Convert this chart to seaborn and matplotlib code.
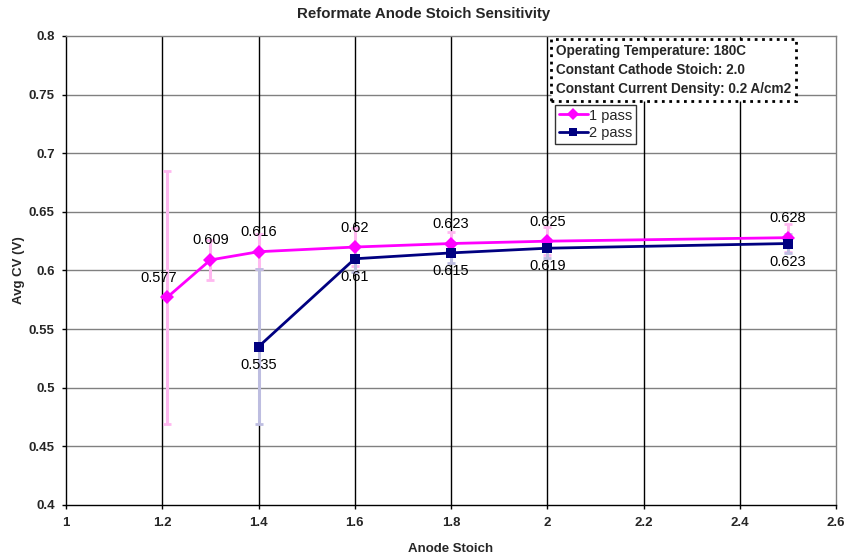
import matplotlib
matplotlib.use("Agg")
import matplotlib.pyplot as plt
import seaborn as sns
import pandas as pd

x1 = [1.21, 1.3, 1.4, 1.6, 1.8, 2.0, 2.5]
y1 = [0.577, 0.609, 0.616, 0.62, 0.623, 0.625, 0.628]
e1 = [0.108, 0.017, 0.015, 0.016, 0.01, 0.012, 0.012]
x2 = [1.4, 1.6, 1.8, 2.0, 2.5]
y2 = [0.535, 0.61, 0.615, 0.619, 0.623]
e2 = [0.066, 0.011, 0.009, 0.008, 0.008]
labels1 = ["0.577", "0.609", "0.616", "0.62", "0.623", "0.625", "0.628"]
labels2 = ["0.535", "0.61", "0.615", "0.619", "0.623"]

sns.set_theme(style="white")
plt.rcParams['font.family'] = ['Liberation Sans', 'DejaVu Sans']

df = pd.concat([
    pd.DataFrame({"x": x1, "y": y1, "series": "1 pass"}),
    pd.DataFrame({"x": x2, "y": y2, "series": "2 pass"}),
])

fig = plt.figure(figsize=(8.48, 5.58), dpi=100)
ax = fig.add_axes([0.0778, 0.095, 0.9082, 0.8405])

ax.errorbar(x1, y1, yerr=e1, fmt='none', ecolor='#FFB8F0', elinewidth=2.2, capsize=3, capthick=2, zorder=2)
ax.errorbar(x2, y2, yerr=e2, fmt='none', ecolor='#BDBDE0', elinewidth=2.2, capsize=3, capthick=2, zorder=2)

sns.lineplot(data=df, x="x", y="y", hue="series", style="series",
             palette={"1 pass": "#FF00FF", "2 pass": "#000080"},
             markers={"1 pass": "D", "2 pass": "s"}, dashes=False,
             markersize=7, linewidth=2, markeredgewidth=0, sort=False, ax=ax, zorder=3)

for xv, yv, t in zip(x1, y1, labels1):
    ax.annotate(t, (xv, yv), xytext=(-6 if xv < 1.25 else 0, 9), textcoords='offset points',
                ha='center', va='bottom', fontsize=10.5, color='black')
for xv, yv, t in zip(x2, y2, labels2):
    ax.annotate(t, (xv, yv), xytext=(0, -8), textcoords='offset points',
                ha='center', va='top', fontsize=10.5, color='black')

ax.set_xlim(1, 2.6)
ax.set_ylim(0.4, 0.8)
ax.set_xticks([1, 1.2, 1.4, 1.6, 1.8, 2, 2.2, 2.4, 2.6])
ax.set_xticklabels(["1", "1.2", "1.4", "1.6", "1.8", "2", "2.2", "2.4", "2.6"])
ax.set_yticks([0.4, 0.45, 0.5, 0.55, 0.6, 0.65, 0.7, 0.75, 0.8])
ax.set_yticklabels(["0.4", "0.45", "0.5", "0.55", "0.6", "0.65", "0.7", "0.75", "0.8"])
for lab in ax.get_xticklabels() + ax.get_yticklabels():
    lab.set_fontweight('bold')
    lab.set_fontsize(9.5)
ax.tick_params(axis='both', direction='out', length=3, width=1, color='black',
               bottom=True, left=True)
ax.tick_params(axis='x', pad=6)
ax.tick_params(axis='y', pad=5)

for yv in [0.45, 0.5, 0.55, 0.6, 0.65, 0.7, 0.75]:
    ax.axhline(yv, color='#808080', linewidth=1, zorder=0)
for xv in [1.2, 1.4, 1.6, 1.8, 2.0, 2.2, 2.4]:
    ax.axvline(xv, color='black', linewidth=1, zorder=0)
for s in ax.spines.values():
    s.set_color('black')
    s.set_linewidth(1)
ax.spines['top'].set_color('#808080')
ax.spines['right'].set_color('#808080')

ax.set_xlabel("Anode Stoich", fontsize=9.5, fontweight='bold', labelpad=10)
ax.set_ylabel("Avg CV (V)", fontsize=9.5, fontweight='bold', labelpad=3)
fig.text(0.5, 0.975, "Reformate Anode Stoich Sensitivity", ha='center', va='center',
         fontsize=10.8, fontweight='bold')

ax.text(0.636, 0.983, "Operating Temperature: 180C\nConstant Cathode Stoich: 2.0\nConstant Current Density: 0.2 A/cm2",
        transform=ax.transAxes, ha='left', va='top', fontsize=9.8, fontweight='bold', linespacing=1.45,
        bbox=dict(boxstyle='square,pad=0.35', facecolor='white', edgecolor='black', linestyle=':', linewidth=2),
        zorder=5)

leg = ax.legend(loc='upper left', bbox_to_anchor=(0.635, 0.853), fontsize=10.5, frameon=True,
                fancybox=False, borderpad=0.25, handlelength=2.0, handletextpad=0.1,
                labelspacing=0.25, borderaxespad=0, markerscale=0.85)
leg.get_frame().set_edgecolor('black')
leg.get_frame().set_linewidth(1)
leg.set_title(None)

fig.savefig("out.png", dpi=100)
